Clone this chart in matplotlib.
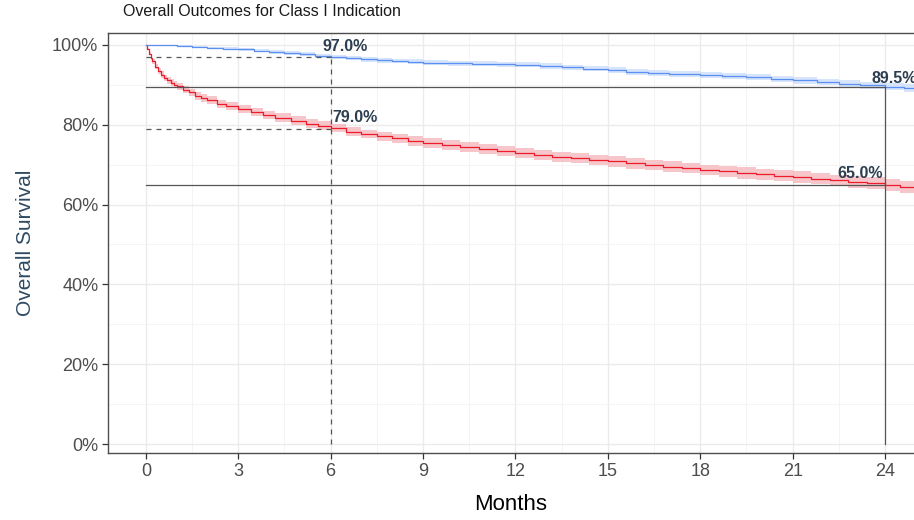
import matplotlib

matplotlib.use("Agg")
import matplotlib.pyplot as plt  # noqa: E402
from matplotlib.ticker import FixedLocator, FuncFormatter  # noqa: E402

plt.rcParams["font.family"] = ["Liberation Sans", "DejaVu Sans"]

# ---------------- data ----------------
red_t = [0, 0.05, 0.1, 0.15, 0.2, 0.3, 0.4, 0.5, 0.6, 0.7, 0.8, 0.9, 1.0, 1.2, 1.4, 1.6, 1.8,
         2.0, 2.3, 2.6, 3.0, 3.4, 3.8, 4.2, 4.7, 5.2, 5.6, 6.0, 6.5, 7.0, 7.5, 8.0, 8.5, 9.0,
         9.6, 10.2, 10.8, 11.4, 12.0, 12.6, 13.2, 13.8, 14.4, 15.0, 15.6, 16.2, 16.8, 17.4,
         18.0, 18.6, 19.2, 19.8, 20.4, 21.0, 21.6, 22.2, 22.8, 23.4, 24.0, 24.5, 25.0]
red_s = [100, 99.0, 97.8, 96.8, 95.9, 94.6, 93.5, 92.6, 91.8, 91.1, 90.5, 90.0, 89.6, 88.8,
         88.1, 87.3, 86.7, 86.1, 85.3, 84.6, 83.9, 83.2, 82.5, 81.8, 81.0, 80.3, 79.8, 79.2,
         78.3, 77.7, 77.1, 76.6, 76.0, 75.5, 74.9, 74.4, 73.9, 73.4, 72.9, 72.4, 72.0, 71.6,
         71.2, 70.8, 70.3, 69.9, 69.5, 69.1, 68.7, 68.3, 67.9, 67.6, 67.2, 66.9, 66.5, 66.1,
         65.7, 65.3, 65.0, 64.4, 64.0]
red_ci = [0, 0.2, 0.4, 0.5, 0.6, 0.7, 0.7, 0.8, 0.8, 0.8, 0.9, 0.9, 0.9, 0.9, 0.9, 1.0, 1.0,
          1.0, 1.0, 1.0, 1.0, 1.0, 1.0, 1.1, 1.1, 1.1, 1.1, 1.1, 1.1, 1.1, 1.2, 1.2, 1.2, 1.2,
          1.2, 1.2, 1.2, 1.2, 1.2, 1.3, 1.3, 1.3, 1.3, 1.3, 1.3, 1.3, 1.3, 1.3, 1.3, 1.4, 1.4,
          1.4, 1.4, 1.4, 1.4, 1.4, 1.5, 1.5, 1.5, 1.5, 1.5]

blue_t = [0, 0.5, 1.0, 1.5, 2.0, 2.5, 3.0, 3.5, 4.0, 4.5, 5.0, 5.5, 6.0, 6.5, 7.0, 7.5, 8.0,
          8.5, 9.0, 9.8, 10.6, 11.4, 12.0, 12.8, 13.5, 14.2, 15.0, 15.6, 16.3, 17.0, 18.0,
          18.7, 19.5, 20.3, 21.0, 21.8, 22.5, 23.2, 24.0, 24.6, 25.0]
blue_s = [100, 99.9, 99.7, 99.5, 99.3, 99.1, 98.9, 98.6, 98.3, 98.0, 97.7, 97.3, 97.0, 96.7,
          96.4, 96.2, 96.0, 95.8, 95.6, 95.4, 95.3, 95.2, 95.1, 94.7, 94.4, 94.1, 93.7, 93.3,
          93.0, 92.8, 92.5, 92.2, 91.9, 91.5, 91.1, 90.7, 90.3, 89.9, 89.5, 89.2, 89.2]
blue_ci = [0, 0.1, 0.2, 0.3, 0.3, 0.4, 0.4, 0.4, 0.5, 0.5, 0.5, 0.5, 0.5, 0.5, 0.6, 0.6, 0.6,
           0.6, 0.6, 0.6, 0.6, 0.6, 0.7, 0.7, 0.7, 0.7, 0.7, 0.7, 0.7, 0.8, 0.8, 0.8, 0.8,
           0.8, 0.8, 0.8, 0.9, 0.9, 0.9, 0.9, 0.9]

ref_6mo = {"time": 6, "blue": 97.0, "red": 79.0}
ref_24mo = {"time": 24, "blue": 89.5, "red": 65.0}
x_ticks = [0, 3, 6, 9, 12, 15, 18, 21, 24]
y_ticks = [0, 20, 40, 60, 80, 100]

RED = "#EC1C2A"
BLUE = "#5B8FF0"
RED_FILL = "#F5B3BA"
BLUE_FILL = "#C9DCFB"
REF = "#555555"
LABEL = "#2C3E50"

# ---------------- figure ----------------
fig = plt.figure(figsize=(9.14, 5.2), dpi=100)
ax = fig.add_axes([108 / 914, 1 - 453 / 520, 1 - 108 / 914, (453 - 33) / 520])

for t, s, ci, col, fill in ((red_t, red_s, red_ci, RED, RED_FILL),
                            (blue_t, blue_s, blue_ci, BLUE, BLUE_FILL)):
    lo = [a - b for a, b in zip(s, ci)]
    hi = [a + b for a, b in zip(s, ci)]
    ax.fill_between(t, lo, hi, step="post", color=fill, alpha=0.75, lw=0, zorder=2)
    ax.step(t, s, where="post", color=col, lw=0.9, zorder=3)

# reference lines at 6 months (dashed) and 24 months (solid)
t6 = ref_6mo["time"]
ax.plot([0, t6], [ref_6mo["blue"]] * 2, ls=(0, (4, 4)), color=REF, lw=0.9, zorder=4)
ax.plot([0, t6], [ref_6mo["red"]] * 2, ls=(0, (4, 4)), color=REF, lw=0.9, zorder=4)
ax.plot([t6, t6], [0, ref_6mo["blue"]], ls=(0, (4, 4)), color=REF, lw=0.9, zorder=4)
t24 = ref_24mo["time"]
ax.plot([0, t24], [ref_24mo["blue"]] * 2, color=REF, lw=0.9, zorder=4)
ax.plot([0, t24], [ref_24mo["red"]] * 2, color=REF, lw=0.9, zorder=4)
ax.plot([t24, t24], [0, ref_24mo["blue"]], color=REF, lw=0.9, zorder=4)

lab_kw = dict(fontsize=11.5, fontweight="bold", color=LABEL, ha="center", va="center", zorder=5)
ax.text(6.46, 99.7, f"{ref_6mo['blue']:.1f}%", **lab_kw)
ax.text(6.8, 81.7, f"{ref_6mo['red']:.1f}%", **lab_kw)
ax.text(24.3, 91.7, f"{ref_24mo['blue']:.1f}%", **lab_kw)
ax.text(23.2, 67.9, f"{ref_24mo['red']:.1f}%", **lab_kw)

ax.set_xlim(-1.23, 24.94)
ax.set_ylim(-2.25, 103.0)
ax.xaxis.set_major_locator(FixedLocator(x_ticks))
ax.yaxis.set_major_locator(FixedLocator(y_ticks))
ax.xaxis.set_minor_locator(FixedLocator([v + 1.5 for v in x_ticks]))
ax.yaxis.set_minor_locator(FixedLocator([v + 10 for v in y_ticks[:-1]]))
ax.yaxis.set_major_formatter(FuncFormatter(lambda v, _: f"{v:.0f}%"))
ax.grid(which="major", color="#EBEBEB", lw=1.0, zorder=0)
ax.grid(which="minor", color="#F3F3F3", lw=0.6, zorder=0)
ax.set_axisbelow(True)
ax.tick_params(which="major", length=4, width=0.9, color="#333333", labelsize=13,
               labelcolor="#4D4D4D", pad=3)
ax.tick_params(which="minor", length=0)

for side in ("left", "bottom", "top"):
    ax.spines[side].set_color("#4D4D4D")
    ax.spines[side].set_linewidth(1.0)
ax.spines["right"].set_visible(False)

ax.set_xlabel("Months", fontsize=16, color="black", labelpad=10)
ax.set_ylabel("Overall Survival", fontsize=15, color="#2E4A62", labelpad=12)
fig.text(123 / 914, 1 - 12 / 520, "Overall Outcomes for Class I Indication",
         fontsize=11.5, color="#1A1A1A", ha="left", va="center")

fig.savefig("out.png", dpi=100)
